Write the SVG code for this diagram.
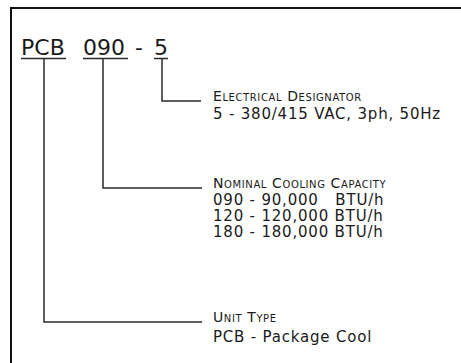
<svg xmlns="http://www.w3.org/2000/svg" width="461" height="363" viewBox="0 0 461 363">
<style>
.t{font-family:"DejaVu Sans",sans-serif;fill:#1a1a1a}
.title{font-size:22px}
.hd{font-size:14px;font-variant:small-caps;letter-spacing:0.6px}
.bd{font-size:15px;letter-spacing:0.8px;white-space:pre}
.ln{fill:none;stroke:#2a2a2a;stroke-width:1.5}
</style>
<rect x="0" y="0" width="461" height="363" fill="#fff"/>
<path d="M11,364 V8 H462" fill="none" stroke="#111" stroke-width="2"/>
<g id="code">
<text class="t title" x="21" y="55">PCB</text>
<text class="t title" x="83" y="55">090</text>
<text class="t title" x="135" y="55">-</text>
<text class="t title" x="154" y="55">5</text>
<path class="ln" d="M21,58.5 H66 M83,58.5 H128 M154,58.5 H168" stroke-width="2"/>
</g>
<g id="connectors">
<path class="ln" d="M162,59 V101 H201"/>
<path class="ln" d="M103,59 V188 H202"/>
<path class="ln" d="M44,59 V322 H202"/>
</g>
<g id="electrical">
<text class="t hd" x="213" y="101">Electrical Designator</text>
<text class="t bd" x="213" y="119">5 - 380/415 VAC, 3ph, 50Hz</text>
</g>
<g id="capacity">
<text class="t hd" x="213" y="188">Nominal Cooling Capacity</text>
<text class="t bd" x="213" y="205" xml:space="preserve">090 - 90,000   BTU/h</text>
<text class="t bd" x="213" y="221">120 - 120,000 BTU/h</text>
<text class="t bd" x="213" y="237">180 - 180,000 BTU/h</text>
</g>
<g id="unittype">
<text class="t hd" x="213" y="322">Unit Type</text>
<text class="t bd" x="213" y="342">PCB - Package Cool</text>
</g>
</svg>
